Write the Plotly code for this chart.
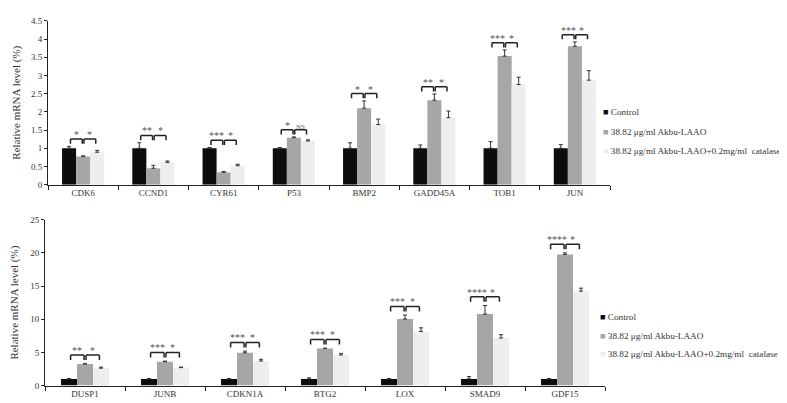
import plotly.graph_objects as go

# ---------------- data ----------------
top_cats = ["CDK6", "CCND1", "CYR61", "P53", "BMP2", "GADD45A", "TOB1", "JUN"]
top_ctrl = [1.0, 1.0, 1.0, 1.0, 1.0, 1.0, 1.0, 1.0]
top_ctrl_err = [0.05, 0.15, 0.02, 0.02, 0.15, 0.09, 0.18, 0.10]
top_akbu = [0.77, 0.45, 0.34, 1.29, 2.10, 2.32, 3.53, 3.80]
top_akbu_err = [0.02, 0.08, 0.02, 0.02, 0.20, 0.17, 0.17, 0.12]
top_cat = [0.89, 0.61, 0.52, 1.20, 1.65, 1.84, 2.75, 2.87]
top_cat_err = [0.05, 0.04, 0.04, 0.03, 0.15, 0.18, 0.20, 0.26]
top_sig1 = ["*", "**", "***", "*", "*", "**", "***", "***"]
top_sig2 = ["*", "*", "*", "NS", "*", "*", "*", "*"]
top_ticks = [0, 0.5, 1, 1.5, 2, 2.5, 3, 3.5, 4, 4.5]

bot_cats = ["DUSP1", "JUNB", "CDKN1A", "BTG2", "LOX", "SMAD9", "GDF15"]
bot_ctrl = [1.0, 1.0, 1.0, 1.0, 1.0, 1.0, 1.0]
bot_ctrl_err = [0.05, 0.05, 0.05, 0.15, 0.05, 0.35, 0.05]
bot_akbu = [3.25, 3.60, 4.94, 5.58, 10.03, 10.77, 19.76]
bot_akbu_err = [0.05, 0.08, 0.25, 0.06, 0.60, 1.30, 0.25]
bot_cat = [2.62, 2.70, 3.70, 4.60, 8.15, 7.16, 14.23]
bot_cat_err = [0.15, 0.08, 0.25, 0.24, 0.55, 0.50, 0.45]
bot_sig1 = ["**", "***", "***", "***", "***", "****", "****"]
bot_sig2 = ["*", "*", "*", "*", "*", "*", "*"]
bot_ticks = [0, 5, 10, 15, 20, 25]

series_names = ["Control", "38.82 μg/ml Akbu-LAAO", "38.82 μg/ml Akbu-LAAO+0.2mg/ml  catalase"]
series_colors = ["#0d0d0d", "#a6a6a6", "#eeeeee"]

W, H = 787, 403
FONT = "Liberation Serif, Times New Roman, serif"
TXT = "#333333"

fig = go.Figure()


def add_panel(cats, groups, xa, ya):
    for (vals, errs), name, col in zip(groups, series_names, series_colors):
        fig.add_trace(go.Bar(
            x=cats, y=vals, name=name, marker=dict(color=col, line=dict(width=0)),
            error_y=dict(type="data", symmetric=False, array=errs,
                         arrayminus=[0] * len(errs), color="#333333",
                         thickness=1, width=2),
            xaxis=xa, yaxis=ya, showlegend=False,
        ))


add_panel(top_cats, [(top_ctrl, top_ctrl_err), (top_akbu, top_akbu_err), (top_cat, top_cat_err)],
          "x", "y")
add_panel(bot_cats, [(bot_ctrl, bot_ctrl_err), (bot_akbu, bot_akbu_err), (bot_cat, bot_cat_err)],
          "x2", "y2")

BARGAP = 0.4
bw = (1 - BARGAP) / 3

shapes = []
annos = []


def brackets(groups, sig1, sig2, xr, yr, offset, leg):
    n = len(sig1)
    for i in range(n):
        top = max(v[i] + e[i] for v, e in groups)
        yb = top + offset
        spans = [(i - bw + 0.02, i - 0.012, sig1[i]), (i + 0.012, i + bw - 0.02, sig2[i])]
        for x0, x1, lab in spans:
            for (a0, b0, a1, b1) in [(x0, yb - leg, x0, yb), (x0, yb, x1, yb), (x1, yb, x1, yb - leg)]:
                shapes.append(dict(type="line", xref=xr, yref=yr, x0=a0, y0=b0, x1=a1, y1=b1,
                                   line=dict(color="#222222", width=1.5)))
            annos.append(dict(x=(x0 + x1) / 2, y=yb, xref=xr, yref=yr, text=lab,
                              showarrow=False, yanchor="bottom", yshift=-3,
                              font=dict(family=FONT, size=10 if lab != "NS" else 7, color="#555555")))


brackets([(top_ctrl, top_ctrl_err), (top_akbu, top_akbu_err), (top_cat, top_cat_err)],
         top_sig1, top_sig2, "x", "y", 0.2, 0.13)
brackets([(bot_ctrl, bot_ctrl_err), (bot_akbu, bot_akbu_err), (bot_cat, bot_cat_err)],
         bot_sig1, bot_sig2, "x2", "y2", 1.3, 0.75)


def legend(x_px, y_pxs, size):
    for name, col, ypx in zip(series_names, series_colors, y_pxs):
        annos.append(dict(
            xref="paper", yref="paper", x=x_px / W, y=1 - ypx / H,
            xanchor="left", yanchor="middle", showarrow=False, align="left",
            text=f'<span style="color:{col}">■</span> {name}',
            font=dict(family=FONT, size=size, color=TXT)))


legend(593, [102, 122, 141], 9.2)
legend(590, [312, 331, 350], 9.2)

axis_common = dict(showline=True, linecolor="#222222", linewidth=1, showgrid=False,
                   zeroline=False, ticks="outside", tickcolor="#222222",
                   tickfont=dict(family=FONT, size=9, color=TXT))

fig.update_layout(
    width=W, height=H, margin=dict(l=0, r=0, t=0, b=0),
    plot_bgcolor="white", paper_bgcolor="white",
    barmode="group", bargap=BARGAP, bargroupgap=0,
    font=dict(family=FONT, color=TXT),
    xaxis=dict(domain=[40 / W, 602 / W], anchor="y", type="category",
               tickson="boundaries", ticklen=4, **axis_common),
    yaxis=dict(domain=[1 - 176 / H, 1 - 8 / H], anchor="x", range=[0, 4.5],
               tickvals=top_ticks, ticklen=3,
               title=dict(text="Relative mRNA level (%)", standoff=8,
                          font=dict(family=FONT, size=11, color=TXT)),
               **axis_common),
    xaxis2=dict(domain=[37 / W, 597 / W], anchor="y2", type="category",
                tickson="boundaries", ticklen=4, **axis_common),
    yaxis2=dict(domain=[1 - 382 / H, 1 - 212 / H], anchor="x2", range=[0, 25],
                tickvals=bot_ticks, ticklen=3,
                title=dict(text="Relative mRNA level (%)", standoff=10,
                           font=dict(family=FONT, size=11, color=TXT)),
                **axis_common),
    shapes=shapes, annotations=annos,
)

fig.write_html("out.html")
